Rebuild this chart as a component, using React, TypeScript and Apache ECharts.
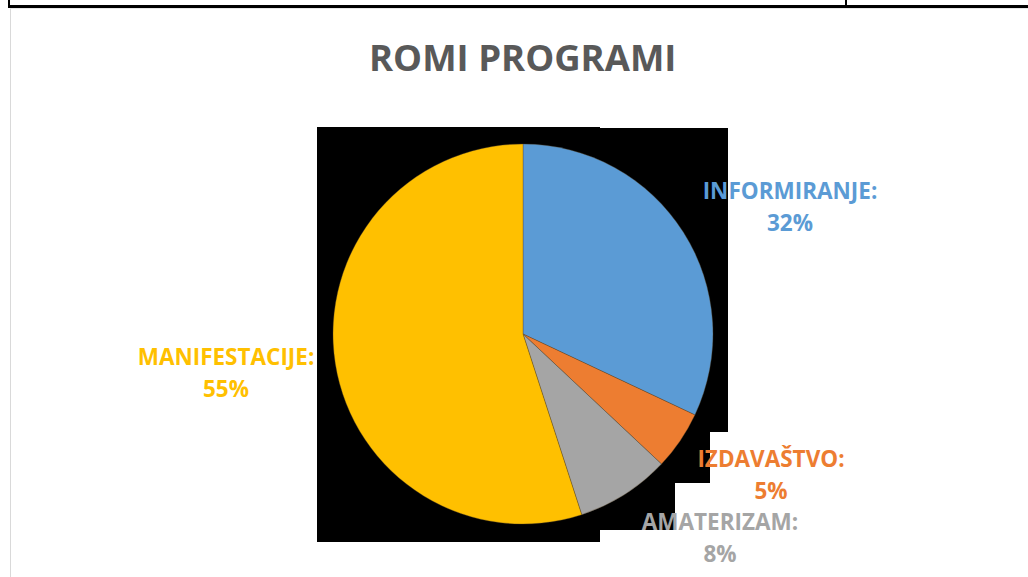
import React, { useEffect, useRef } from "react";
import * as echarts from "echarts";

const TITLE = "ROMI PROGRAMI";
const categories = ["INFORMIRANJE", "IZDAVAŠTVO", "AMATERIZAM", "MANIFESTACIJE"];
const values = [32, 5, 8, 55];
const colors = ["#5B9BD5", "#ED7D31", "#A5A5A5", "#FFC000"];
// label centre positions (layout only)
const labelPos = [
  [790, 206],
  [771, 474],
  [720, 537],
  [226, 372],
];

export default function App() {
  const ref = useRef<HTMLDivElement>(null);
  useEffect(() => {
    document.body.style.margin = "0";
    const chart = echarts.init(ref.current!, null, { renderer: "svg" });
    const font = "'Open Sans', 'Noto Sans', sans-serif";
    chart.setOption({
      animation: false,
      backgroundColor: "#ffffff",
      title: {
        text: TITLE,
        left: 364,
        top: 33,
        textStyle: { fontFamily: font, fontSize: 36.5, fontWeight: "bold", color: "#595959" },
      },
      graphic: [
        { type: "rect", z: 0, shape: { x: 317, y: 127, width: 283, height: 415 }, style: { fill: "#000" } },
        { type: "rect", z: 0, shape: { x: 600, y: 128, width: 128, height: 304 }, style: { fill: "#000" } },
        { type: "rect", z: 0, shape: { x: 600, y: 432, width: 110, height: 51 }, style: { fill: "#000" } },
        { type: "rect", z: 0, shape: { x: 600, y: 483, width: 75, height: 47 }, style: { fill: "#000" } },
        { type: "rect", z: 0, shape: { x: 8, y: 5, width: 1020, height: 3 }, style: { fill: "#000" } },
        { type: "rect", z: 0, shape: { x: 8, y: 0, width: 2, height: 6 }, style: { fill: "#000" } },
        { type: "rect", z: 0, shape: { x: 845, y: 0, width: 2, height: 6 }, style: { fill: "#000" } },
        { type: "line", z: 0, shape: { x1: 10.5, y1: 8, x2: 10.5, y2: 577 }, style: { stroke: "#d9d9d9", lineWidth: 1 } },
        { type: "line", z: 0, shape: { x1: 10, y1: 8.5, x2: 1028, y2: 8.5 }, style: { stroke: "#e6e6e6", lineWidth: 1 } },
      ],
      series: [
        {
          type: "pie",
          center: [523, 334],
          radius: 190,
          startAngle: 90,
          clockwise: true,
          itemStyle: { borderColor: "rgba(90,70,40,0.6)", borderWidth: 0.6 },
          labelLine: { show: false },
          label: {
            show: true,
            position: "outside",
            formatter: "{b}:\n{d}%",
            fontFamily: font,
            fontSize: 22.5,
            fontWeight: "bold",
            lineHeight: 32,
            align: "center",
          },
          labelLayout: (p: any) => ({
            x: labelPos[p.dataIndex][0],
            y: labelPos[p.dataIndex][1],
            align: "center",
            verticalAlign: "middle",
            hideOverlap: false,
            moveOverlap: null,
          }),
          data: categories.map((c, i) => ({
            name: c,
            value: values[i],
            itemStyle: { color: colors[i] },
            label: { color: colors[i] },
          })),
        },
      ],
    });
    return () => chart.dispose();
  }, []);
  return <div ref={ref} style={{ width: 1028, height: 577 }} />;
}
